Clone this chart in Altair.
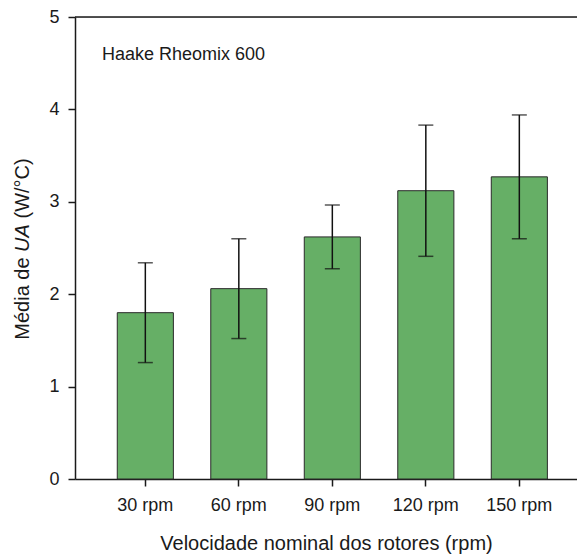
import altair as alt
import pandas as pd

categories = ["30 rpm", "60 rpm", "90 rpm", "120 rpm", "150 rpm"]
means = [1.80, 2.06, 2.62, 3.12, 3.27]
sds = [0.54, 0.54, 0.345, 0.71, 0.67]

df = pd.DataFrame({
    "cat": categories,
    "mean": means,
    "lo": [m - s for m, s in zip(means, sds)],
    "hi": [m + s for m, s in zip(means, sds)],
})

FONT = "Liberation Sans"
INK = "#1a1a1a"

xscale = alt.Scale(domain=categories, paddingInner=0.4, paddingOuter=0.3845, align=0.588)
yscale = alt.Scale(domain=[0, 5], nice=False, zero=True)

x_enc = alt.X("cat:N", scale=xscale, sort=categories,
              axis=alt.Axis(title="Velocidade nominal dos rotores (rpm)", labelAngle=0,
                            tickSize=7, labelPadding=10, labelFontSize=18,
                            titleFontSize=20, titleY=70, titleBaseline="alphabetic",
                            domainColor=INK, tickColor=INK, domainWidth=1.5, tickWidth=1.5,
                            labelColor=INK, titleColor=INK, titleFontWeight="normal",
                            labelFont=FONT, titleFont=FONT, grid=False))

base = alt.Chart(df)

bars = base.mark_bar(color="#66af66", stroke="#2a2a2a", strokeWidth=1).encode(
    x=x_enc,
    y=alt.Y("mean:Q", scale=yscale,
            axis=alt.Axis(title=None, values=[0, 1, 2, 3, 4, 5], tickSize=7, labelPadding=9,
                          labelFontSize=18, labelFont=FONT, labelColor=INK,
                          domainColor=INK, tickColor=INK, domainWidth=1.5, tickWidth=1.5,
                          grid=False, format="d")),
)

rules = base.mark_rule(color="#111111", strokeWidth=1.5).encode(
    x=alt.X("cat:N", scale=xscale, sort=categories),
    y=alt.Y("lo:Q", scale=yscale),
    y2="hi:Q",
)
tick_hi = base.mark_tick(color="#111111", size=15, thickness=1.5, orient="horizontal").encode(
    x=alt.X("cat:N", scale=xscale, sort=categories),
    y=alt.Y("hi:Q", scale=yscale),
)
tick_lo = base.mark_tick(color="#111111", size=15, thickness=1.5, orient="horizontal").encode(
    x=alt.X("cat:N", scale=xscale, sort=categories),
    y=alt.Y("lo:Q", scale=yscale),
)

top_df = pd.DataFrame({"v": [5]})
top_line = alt.Chart(top_df).mark_rule(color=INK, strokeWidth=1.5).encode(
    y=alt.Y("v:Q", scale=yscale)
)

one = pd.DataFrame({"t": ["Haake Rheomix 600"]})
annot = alt.Chart(one).mark_text(align="left", baseline="alphabetic", fontSize=18,
                                 font=FONT, color=INK).encode(
    x=alt.value(27), y=alt.value(43), text="t:N"
)

# y title in pieces (UA italic)
ytitle_parts = pd.DataFrame({
    "t": ["Média de", "UA", "(W/°C)"],
    "yy": [322.7, 234.9, 201.5],
    "st": ["normal", "italic", "normal"],
})
ytitle_normal = alt.Chart(ytitle_parts[ytitle_parts.st == "normal"]).mark_text(
    align="left", baseline="middle", angle=270, fontSize=20, font=FONT, color=INK
).encode(x=alt.value(-52), y=alt.Y("yy:Q", scale=None), text="t:N")
ytitle_italic = alt.Chart(ytitle_parts[ytitle_parts.st == "italic"]).mark_text(
    align="left", baseline="middle", angle=270, fontSize=20, font=FONT, color=INK,
    fontStyle="italic"
).encode(x=alt.value(-52), y=alt.Y("yy:Q", scale=None), text="t:N")

chart = alt.layer(bars, rules, tick_hi, tick_lo, top_line, annot, ytitle_normal, ytitle_italic).properties(
    width=502, height=462,
    autosize=alt.AutoSizeParams(type="none"),
    padding={"left": 75, "top": 17, "right": 0, "bottom": 80},
).configure_view(stroke=None).configure(background="white")

chart.save("out.html", embed_options={"renderer": "svg", "actions": False})
